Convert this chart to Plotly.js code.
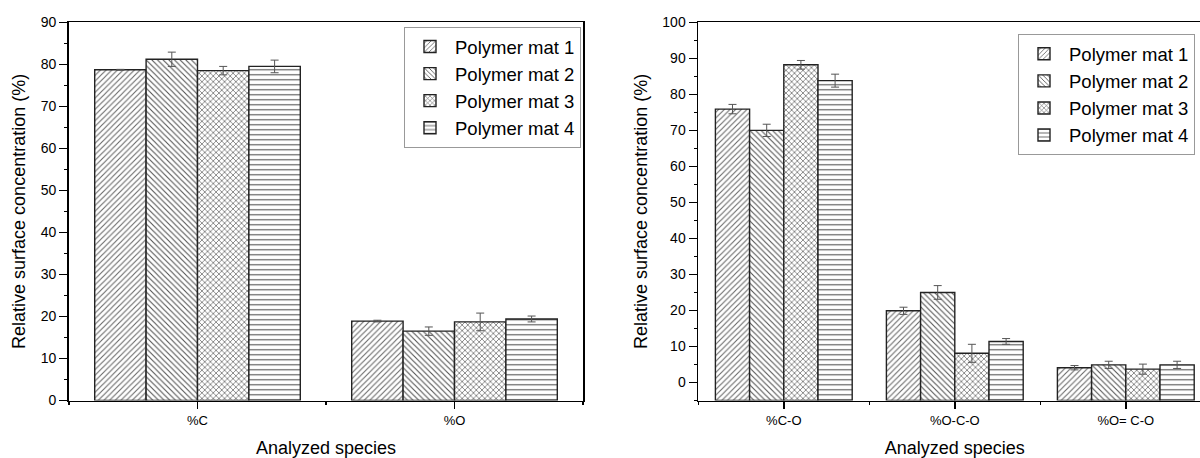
<!DOCTYPE html>
<html>
<head>
<meta charset="utf-8">
<script src="https://cdn.plot.ly/plotly-3.0.1.min.js"></script>
<style>
  html, body { margin: 0; padding: 0; overflow: hidden; background: #fff; }
  #chart { width: 1230px; height: 458px; }
</style>
</head>
<body>
<div id="chart"></div>
<script>
// ---- Data ----
const seriesNames = ['Polymer mat 1', 'Polymer mat 2', 'Polymer mat 3', 'Polymer mat 4'];

const categoriesLeft = ['%C', '%O'];
const mat1Left = [78.7, 18.9];
const mat2Left = [81.2, 16.5];
const mat3Left = [78.5, 18.7];
const mat4Left = [79.5, 19.4];
const mat1LeftErr = [0.1, 0.2];
const mat2LeftErr = [1.7, 1.0];
const mat3LeftErr = [1.0, 2.1];
const mat4LeftErr = [1.5, 0.7];

const categoriesRight = ['%C-O', '%O-C-O', '%O= C-O'];
const mat1Right = [75.9, 19.9, 4.1];
const mat2Right = [70.0, 25.0, 4.9];
const mat3Right = [88.2, 8.1, 3.7];
const mat4Right = [83.8, 11.4, 4.9];
const mat1RightErr = [1.3, 1.0, 0.6];
const mat2RightErr = [1.7, 1.9, 1.0];
const mat3RightErr = [1.2, 2.5, 1.4];
const mat4RightErr = [1.8, 0.8, 1.0];

const yRangeLeft = [0, 90];
const yRangeRight = [-5, 100];

// ---- Styles ----
const FONT = 'Liberation Sans, Arial, sans-serif';
const patterns = [
  { shape: '/',  size: 4, solidity: 0.28, fgcolor: '#6a6a6a', bgcolor: '#ffffff' },
  { shape: '\\', size: 4, solidity: 0.28, fgcolor: '#555555', bgcolor: '#ffffff' },
  { shape: 'x',  size: 4, solidity: 0.32, fgcolor: '#5e5e5e', bgcolor: '#ffffff' },
  { shape: '-',  size: 5, solidity: 0.22, fgcolor: '#555555', bgcolor: '#ffffff' }
];

// bars are drawn from the bottom of the value axis (as in the original figure)
function makeTraces(cats, vals, errs, xa, ya, legendName, baseVal) {
  const xs = cats.map((c, i) => i);
  return vals.map((v, k) => ({
    type: 'bar',
    name: seriesNames[k],
    x: xs,
    y: v.map(val => val - baseVal),
    base: baseVal,
    xaxis: xa,
    yaxis: ya,
    legend: legendName,
    marker: {
      color: '#ffffff',
      pattern: patterns[k],
      line: { color: '#222222', width: 1.4 }
    },
    error_y: { type: 'data', array: errs[k], visible: true, color: '#555555', thickness: 1, width: 4 },
    hoverinfo: 'skip'
  }));
}

const traces = [].concat(
  makeTraces(categoriesLeft, [mat1Left, mat2Left, mat3Left, mat4Left],
             [mat1LeftErr, mat2LeftErr, mat3LeftErr, mat4LeftErr], 'x', 'y', 'legend', yRangeLeft[0]),
  makeTraces(categoriesRight, [mat1Right, mat2Right, mat3Right, mat4Right],
             [mat1RightErr, mat2RightErr, mat3RightErr, mat4RightErr], 'x2', 'y2', 'legend2', yRangeRight[0])
);

const W = 1230, H = 458;
const yDom = [(H - 400.5) / H, (H - 22.3) / H];

function xAxis(cats, domain, anchor) {
  const n = cats.length;
  const bounds = [];
  for (let i = 0; i <= n; i++) bounds.push(i - 0.5);
  return {
    domain: domain,
    anchor: anchor,
    range: [-0.5, n - 0.5],
    tickmode: 'array',
    tickvals: cats.map((c, i) => i),
    ticktext: cats,
    ticks: 'outside',
    ticklen: 7,
    tickwidth: 1.5,
    tickcolor: '#000',
    minor: { tickmode: 'array', tickvals: bounds, ticks: 'outside', ticklen: 3, tickwidth: 1.5, tickcolor: '#000' },
    showline: true,
    linecolor: '#000',
    linewidth: 1.8,
    mirror: true,
    showgrid: false,
    zeroline: false,
    tickfont: { family: FONT, size: 13, color: '#000' },
    title: { text: 'Analyzed species', font: { family: FONT, size: 18, color: '#000' }, standoff: 14 },
    automargin: false,
    fixedrange: true
  };
}

function yAxis(range, anchor) {
  return {
    domain: yDom,
    anchor: anchor,
    range: range,
    tickmode: 'linear',
    tick0: 0,
    dtick: 10,
    ticks: 'outside',
    ticklen: 8,
    tickwidth: 1.5,
    tickcolor: '#000',
    minor: { dtick: 5, tick0: 0, ticks: 'outside', ticklen: 3, tickwidth: 1.5, tickcolor: '#000' },
    showline: true,
    linecolor: '#000',
    linewidth: 1.8,
    mirror: true,
    showgrid: false,
    zeroline: false,
    tickfont: { family: FONT, size: 14, color: '#000' },
    title: { text: 'Relative surface concentration (%)', font: { family: FONT, size: 18, color: '#000' }, standoff: 10 },
    automargin: false,
    fixedrange: true
  };
}

const legendBase = {
  xanchor: 'right',
  yanchor: 'top',
  bgcolor: '#ffffff',
  bordercolor: '#999999',
  borderwidth: 1,
  font: { family: FONT, size: 18.5, color: '#000' },
  itemwidth: 40,
  tracegroupgap: 0,
  itemclick: false,
  itemdoubleclick: false
};

const layout = {
  width: W,
  height: H,
  margin: { l: 0, r: 0, t: 0, b: 0, pad: 0 },
  paper_bgcolor: '#ffffff',
  plot_bgcolor: '#ffffff',
  barmode: 'group',
  bargap: 0.2,
  bargroupgap: 0,
  showlegend: true,
  font: { family: FONT, color: '#000' },
  xaxis: xAxis(categoriesLeft, [69 / W, 583 / W], 'y'),
  yaxis: yAxis(yRangeLeft, 'x'),
  xaxis2: xAxis(categoriesRight, [698.3 / W, 1211.3 / W], 'y2'),
  yaxis2: yAxis(yRangeRight, 'x2'),
  legend: Object.assign({}, legendBase, { x: 581 / W, y: (H - 27) / H }),
  legend2: Object.assign({}, legendBase, { x: 1195 / W, y: (H - 34.3) / H })
};

Plotly.newPlot('chart', traces, layout, { displayModeBar: false, staticPlot: true });
</script>
</body>
</html>
